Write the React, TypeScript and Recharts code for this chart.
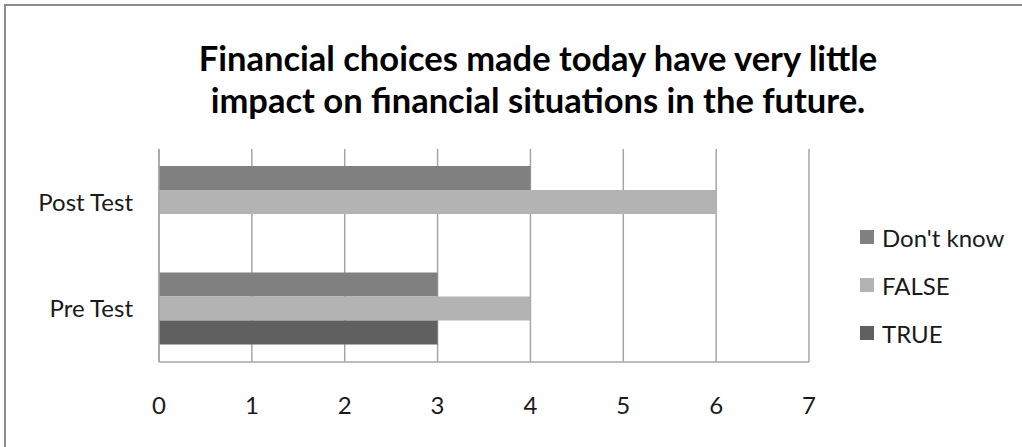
import { BarChart, Bar, XAxis, YAxis, CartesianGrid } from 'recharts';

const categories = ['Post Test', 'Pre Test'];
const dontKnow = [4, 3];
const falseVals = [6, 4];
const trueVals = [0, 3];
const xTicks = [0, 1, 2, 3, 4, 5, 6, 7];

const series = [
  { key: "Don't know", color: '#808080' },
  { key: 'FALSE', color: '#b3b3b3' },
  { key: 'TRUE', color: '#606060' },
];

const data = categories.map((name, i) => ({
  name,
  "Don't know": dontKnow[i],
  FALSE: falseVals[i],
  TRUE: trueVals[i],
}));

const FONT = 'Lato, "Open Sans", sans-serif';

function LegendBox() {
  return (
    <div style={{ position: 'absolute', left: 860, top: 213, fontFamily: FONT, fontSize: 24, color: '#1a1a1a' }}>
      {series.map((s) => (
        <div key={s.key} style={{ display: 'flex', alignItems: 'center', height: 48 }}>
          <span style={{ width: 14, height: 14, background: s.color, marginRight: 8, display: 'inline-block' }} />
          <span>{s.key}</span>
        </div>
      ))}
    </div>
  );
}

export default function App() {
  return (
    <div style={{ position: 'absolute', left: 0, top: 0, width: 1022, height: 447, background: '#fff', overflow: 'hidden' }}>
      <div
        style={{
          position: 'absolute',
          left: 4,
          top: 4,
          width: 1100,
          height: 500,
          borderTop: '2px solid #8c8c8c',
          borderLeft: '2px solid #8c8c8c',
        }}
      />
      <div
        style={{
          position: 'absolute',
          left: 0,
          width: 1076,
          top: 37,
          textAlign: 'center',
          fontFamily: FONT,
          fontWeight: 700,
          fontSize: 34.5,
          lineHeight: '42px',
          color: '#000',
        }}
      >
        Financial choices made today have very little
        <br />
        impact on financial situations in the future.
      </div>
      <BarChart
        width={1022}
        height={447}
        data={data}
        layout="vertical"
        margin={{ top: 149, right: 213, bottom: 45, left: 0 }}
        barCategoryGap="16%"
        barGap={0}
        style={{ position: 'absolute', left: 0, top: 0 }}
      >
        <CartesianGrid horizontal={false} stroke="#a6a6a6" strokeWidth={1.5} />
        <XAxis
          type="number"
          domain={[0, 7]}
          ticks={xTicks}
          height={40}
          tickLine={false}
          tickSize={0}
          tickMargin={35}
          axisLine={{ stroke: '#a6a6a6', strokeWidth: 1.5 }}
          tick={{ fill: '#1a1a1a', fontSize: 24, fontFamily: FONT }}
          interval={0}
        />
        <YAxis
          type="category"
          dataKey="name"
          width={159}
          tickLine={false}
          tickSize={0}
          tickMargin={26}
          axisLine={{ stroke: '#a6a6a6', strokeWidth: 1.5 }}
          tick={{ fill: '#1a1a1a', fontSize: 24, fontFamily: FONT }}
        />
        {series.map((s) => (
          <Bar key={s.key} dataKey={s.key} fill={s.color} isAnimationActive={false} />
        ))}
      </BarChart>
      <LegendBox />
    </div>
  );
}
